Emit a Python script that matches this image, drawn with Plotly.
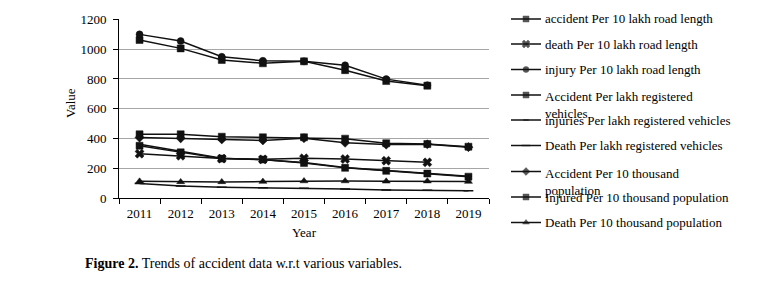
import plotly.graph_objects as go

years = ["2011", "2012", "2013", "2014", "2015", "2016", "2017", "2018", "2019"]

accident_road = [1061, 1005, 927, 905, 918, 859, 786, 755, None]
death_road = [299, 285, 266, 261, 268, 263, 252, 241, None]
injury_road = [1099, 1054, 949, 922, 918, 892, 799, 758, None]
accident_veh = [429, 429, 413, 409, 409, 400, 369, 364, 346]
injuries_veh = [362, 315, 268, 258, 240, 207, 186, 168, 147]
death_veh = [100, 82, 74, 71, 67, 63, 56, 54, 51]
accident_pop = [407, 402, 395, 388, 403, 372, 360, 362, 343]
injured_pop = [352, 308, 266, 260, 236, 204, 184, 166, 145]
death_pop = [114, 110, 110, 112, 116, 116, 114, 115, 112]

series = [
    ("accident Per 10 lakh road length", accident_road, "square", 7),
    ("death Per 10 lakh road length", death_road, "x", 8),
    ("injury Per 10 lakh road length", injury_road, "circle", 7),
    ("Accident Per lakh registered<br>vehicles", accident_veh, "square", 7),
    ("injuries Per lakh registered vehicles", injuries_veh, "line-ew", 5),
    ("Death Per lakh registered vehicles", death_veh, "line-ew", 7),
    ("Accident Per 10 thousand<br>population", accident_pop, "diamond", 7),
    ("Injured Per 10 thousand population", injured_pop, "square", 7),
    ("Death Per 10 thousand population", death_pop, "triangle-up", 7),
]

W, H = 775, 285
FONT = "Liberation Serif, Times New Roman, serif"
LINE = "#111111"


def px(x):
    return x / W


def py(y):
    return 1 - y / H


fig = go.Figure()
for name, vals, sym, sz in series:
    fig.add_trace(go.Scatter(
        x=years, y=vals, mode="lines+markers", name=name, showlegend=False,
        line=dict(color=LINE, width=1.5),
        marker=dict(symbol=sym, size=sz, color=LINE,
                    line=dict(color=LINE, width=1.5 if sym.startswith("line") else 0.5)),
        connectgaps=False,
    ))

# manual legend (pixel coordinates on an invisible overlay axis)
leg_y = [19, 44, 69.5, 95, 120, 145.5, 171.5, 197, 222.5]
annotations = []
for (name, vals, sym, sz), ly in zip(series, leg_y):
    fig.add_trace(go.Scatter(
        x=[511, 526, 541], y=[ly, ly, ly], mode="lines+markers", showlegend=False,
        xaxis="x2", yaxis="y2", hoverinfo="skip",
        line=dict(color=LINE, width=1.5),
        marker=dict(symbol=sym, size=[0, sz - 1, 0], color=LINE,
                    line=dict(color=LINE, width=1.5 if sym.startswith("line") else 0.5)),
    ))
    wrapped = "<br>" in name
    annotations.append(dict(
        x=px(543), y=py(ly), xref="paper", yref="paper", text=name, showarrow=False,
        xanchor="left", yanchor="top" if wrapped else "middle",
        yshift=8 if wrapped else 0,
        align="left", font=dict(family=FONT, size=13, color="#000")))

annotations.append(dict(x=px(70), y=py(103), xref="paper", yref="paper", text="Value",
                        showarrow=False, textangle=-90, xanchor="center", yanchor="middle",
                        font=dict(family=FONT, size=13, color="#000")))
annotations.append(dict(x=px(304), y=py(232), xref="paper", yref="paper", text="Year",
                        showarrow=False, xanchor="center", yanchor="middle",
                        font=dict(family=FONT, size=13, color="#000")))
annotations.append(dict(x=px(83), y=py(263), xref="paper", yref="paper",
                        xanchor="left", yanchor="middle",
                        text="<b>Figure 2.</b> Trends of accident data w.r.t various variables.",
                        showarrow=False, font=dict(family=FONT, size=14, color="#000")))

x0, x1 = 119, 489
ytop, ybot = 19.3, 198.3
fig.update_layout(
    width=W, height=H, margin=dict(l=0, r=0, t=0, b=0, pad=0, autoexpand=False),
    paper_bgcolor="white", plot_bgcolor="rgba(0,0,0,0)",
    font=dict(family=FONT, size=13, color="#000"),
    xaxis=dict(type="category", categoryorder="array", categoryarray=years,
               domain=[x0 / W, x1 / W], range=[-0.5, 8.5], automargin=False,
               showline=True, linecolor="#000", linewidth=1,
               ticks="outside", ticklen=5, tickcolor="#000", tickson="boundaries",
               showgrid=False, zeroline=False, ticklabelstandoff=3,
               tickfont=dict(family=FONT, size=13, color="#000")),
    yaxis=dict(domain=[py(ybot), py(ytop)], range=[0, 1200], automargin=False,
               tickvals=[0, 200, 400, 600, 800, 1000, 1200],
               showline=True, linecolor="#000", linewidth=1,
               ticks="outside", ticklen=5, tickcolor="#000",
               showgrid=True, gridcolor="#a6a6a6", gridwidth=1, zeroline=False,
               ticklabelstandoff=4,
               tickfont=dict(family=FONT, size=13, color="#000")),
    xaxis2=dict(domain=[0, 1], range=[0, W], visible=False, anchor="y2", automargin=False),
    yaxis2=dict(domain=[0, 1], range=[H, 0], visible=False, anchor="x2", automargin=False),
    annotations=annotations,
    showlegend=False,
)

fig.write_html("out.html")
